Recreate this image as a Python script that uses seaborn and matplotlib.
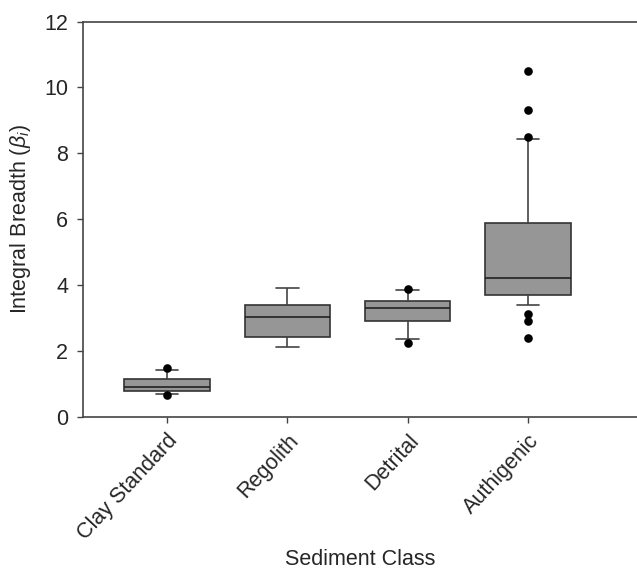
import matplotlib
matplotlib.use("Agg")
import matplotlib.pyplot as plt
import seaborn as sns
import pandas as pd

categories = ["Clay Standard", "Regolith", "Detrital", "Authigenic"]
# five-number summaries: lower whisker, Q1, median, Q3, upper whisker
whisker_low = [0.69, 2.11, 2.37, 3.38]
q1 = [0.79, 2.42, 2.92, 3.69]
median = [0.89, 3.02, 3.29, 4.20]
q3 = [1.13, 3.40, 3.50, 5.87]
whisker_high = [1.43, 3.90, 3.84, 8.43]
# outliers
outlier_cat = ["Clay Standard", "Clay Standard", "Detrital", "Detrital",
               "Authigenic", "Authigenic", "Authigenic", "Authigenic", "Authigenic", "Authigenic"]
outlier_val = [1.48, 0.66, 3.88, 2.23, 10.50, 9.32, 8.51, 3.13, 2.92, 2.40]

sns.set_style("ticks")
plt.rcParams["font.family"] = ["Liberation Sans", "DejaVu Sans"]
plt.rcParams["mathtext.fontset"] = "custom"
plt.rcParams["mathtext.rm"] = "Liberation Sans"
plt.rcParams["mathtext.it"] = "Liberation Sans:italic"

rows = []
for i, c in enumerate(categories):
    for v in (whisker_low[i], q1[i], median[i], q3[i], whisker_high[i]):
        rows.append({"cat": c, "val": v})
df = pd.DataFrame(rows)
df_out = pd.DataFrame({"cat": outlier_cat, "val": outlier_val})

fig = plt.figure(figsize=(6.37, 5.70), dpi=100)
ax = fig.add_axes([0.130, 0.269, 0.870, 0.693])

edge = "#333333"
sns.boxplot(data=df, x="cat", y="val", order=categories, whis=(0, 100),
            width=0.71, color="#969696", saturation=1, linewidth=1.2,
            linecolor=edge, showfliers=False, ax=ax, capwidths=0.19,
            boxprops=dict(facecolor="#969696", edgecolor=edge),
            whiskerprops=dict(color="#444444"),
            capprops=dict(color="#444444"),
            medianprops=dict(color="#222222"))
sns.stripplot(data=df_out, x="cat", y="val", order=categories, jitter=False,
              color="black", size=6.2, ax=ax, zorder=5)

ax.set_xlim(-0.70, 3.906)
ax.set_ylim(0, 12)
ax.set_yticks([0, 2, 4, 6, 8, 10, 12])
for s in ["left", "bottom", "top"]:
    ax.spines[s].set_color("#444444")
    ax.spines[s].set_linewidth(1.2)
ax.spines["right"].set_visible(False)
ax.tick_params(axis="both", labelsize=15.5, length=4.5, width=1.0, color="#444444", direction="out")
ax.tick_params(axis="y", pad=6)
ax.tick_params(axis="x", pad=5)
ax.tick_params(top=False, right=False)
plt.setp(ax.get_xticklabels(), rotation=47, ha="right", rotation_mode="anchor")
ax.set_xlabel("Sediment Class", fontsize=15.5, labelpad=4)
ax.set_ylabel(r"Integral Breadth ($\beta_i$)", fontsize=15.5, labelpad=8)

fig.savefig("out.png", dpi=100)
